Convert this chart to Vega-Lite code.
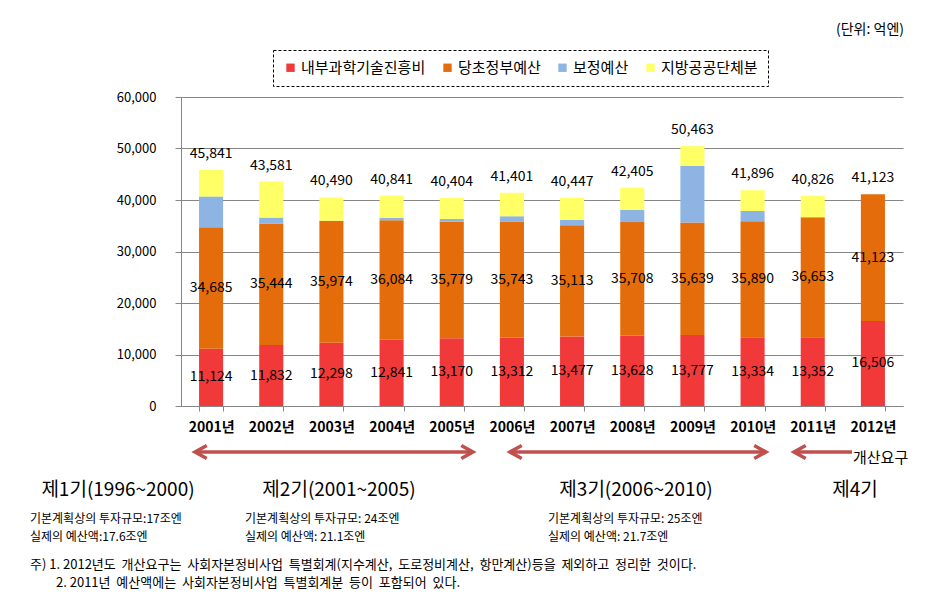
{
  "$schema": "https://vega.github.io/schema/vega-lite/v6.json",
  "width": 722,
  "height": 309,
  "autosize": {"type": "none"},
  "padding": {"left": 181, "top": 97, "right": 29, "bottom": 208},
  "background": "white",
  "config": {"font": "Noto Sans CJK KR", "view": {"stroke": null}},
  "datasets": {
    "bars": [
      {"year": "2001년", "series": "내부과학기술진흥비", "value": 11124, "label": 11124},
      {"year": "2001년", "series": "당초정부예산", "value": 23561, "label": 34685},
      {"year": "2001년", "series": "보정예산", "value": 6000, "label": null},
      {"year": "2001년", "series": "지방공공단체분", "value": 5156, "label": null},
      {"year": "2002년", "series": "내부과학기술진흥비", "value": 11832, "label": 11832},
      {"year": "2002년", "series": "당초정부예산", "value": 23612, "label": 35444},
      {"year": "2002년", "series": "보정예산", "value": 1150, "label": null},
      {"year": "2002년", "series": "지방공공단체분", "value": 6987, "label": null},
      {"year": "2003년", "series": "내부과학기술진흥비", "value": 12298, "label": 12298},
      {"year": "2003년", "series": "당초정부예산", "value": 23676, "label": 35974},
      {"year": "2003년", "series": "지방공공단체분", "value": 4516, "label": null},
      {"year": "2004년", "series": "내부과학기술진흥비", "value": 12841, "label": 12841},
      {"year": "2004년", "series": "당초정부예산", "value": 23243, "label": 36084},
      {"year": "2004년", "series": "보정예산", "value": 420, "label": null},
      {"year": "2004년", "series": "지방공공단체분", "value": 4337, "label": null},
      {"year": "2005년", "series": "내부과학기술진흥비", "value": 13170, "label": 13170},
      {"year": "2005년", "series": "당초정부예산", "value": 22609, "label": 35779},
      {"year": "2005년", "series": "보정예산", "value": 550, "label": null},
      {"year": "2005년", "series": "지방공공단체분", "value": 4075, "label": null},
      {"year": "2006년", "series": "내부과학기술진흥비", "value": 13312, "label": 13312},
      {"year": "2006년", "series": "당초정부예산", "value": 22431, "label": 35743},
      {"year": "2006년", "series": "보정예산", "value": 1100, "label": null},
      {"year": "2006년", "series": "지방공공단체분", "value": 4558, "label": null},
      {"year": "2007년", "series": "내부과학기술진흥비", "value": 13477, "label": 13477},
      {"year": "2007년", "series": "당초정부예산", "value": 21636, "label": 35113},
      {"year": "2007년", "series": "보정예산", "value": 1000, "label": null},
      {"year": "2007년", "series": "지방공공단체분", "value": 4334, "label": null},
      {"year": "2008년", "series": "내부과학기술진흥비", "value": 13628, "label": 13628},
      {"year": "2008년", "series": "당초정부예산", "value": 22080, "label": 35708},
      {"year": "2008년", "series": "보정예산", "value": 2350, "label": null},
      {"year": "2008년", "series": "지방공공단체분", "value": 4347, "label": null},
      {"year": "2009년", "series": "내부과학기술진흥비", "value": 13777, "label": 13777},
      {"year": "2009년", "series": "당초정부예산", "value": 21862, "label": 35639},
      {"year": "2009년", "series": "보정예산", "value": 10960, "label": null},
      {"year": "2009년", "series": "지방공공단체분", "value": 3864, "label": null},
      {"year": "2010년", "series": "내부과학기술진흥비", "value": 13334, "label": 13334},
      {"year": "2010년", "series": "당초정부예산", "value": 22556, "label": 35890},
      {"year": "2010년", "series": "보정예산", "value": 1970, "label": null},
      {"year": "2010년", "series": "지방공공단체분", "value": 4036, "label": null},
      {"year": "2011년", "series": "내부과학기술진흥비", "value": 13352, "label": 13352},
      {"year": "2011년", "series": "당초정부예산", "value": 23301, "label": 36653},
      {"year": "2011년", "series": "지방공공단체분", "value": 4173, "label": null},
      {"year": "2012년", "series": "내부과학기술진흥비", "value": 16506, "label": 16506},
      {"year": "2012년", "series": "당초정부예산", "value": 24617, "label": 41123}
    ],
    "totals": [
      {"year": "2001년", "total": 45841},
      {"year": "2002년", "total": 43581},
      {"year": "2003년", "total": 40490},
      {"year": "2004년", "total": 40841},
      {"year": "2005년", "total": 40404},
      {"year": "2006년", "total": 41401},
      {"year": "2007년", "total": 40447},
      {"year": "2008년", "total": 42405},
      {"year": "2009년", "total": 50463},
      {"year": "2010년", "total": 41896},
      {"year": "2011년", "total": 40826},
      {"year": "2012년", "total": 41123}
    ],
    "unit": [{"pos": 12.017, "val": 73010, "text": "(단위: 억엔)"}],
    "periods": [
      {"pos": -1.047, "val": -16311, "text": "제1기(1996~2000)"},
      {"pos": 2.626, "val": -16311, "text": "제2기(2001~2005)"},
      {"pos": 7.562, "val": -16311, "text": "제3기(2006~2010)"},
      {"pos": 11.202, "val": -16311, "text": "제4기"}
    ],
    "details": [
      {"pos": -2.51, "val": -22000, "text": "기본계획상의 투자규모:17조엔"},
      {"pos": -2.51, "val": -25400, "text": "실제의 예산액:17.6조엔"},
      {"pos": 1.064, "val": -22000, "text": "기본계획상의 투자규모: 24조엔"},
      {"pos": 1.064, "val": -25400, "text": "실제의 예산액: 21.1조엔"},
      {"pos": 6.1, "val": -22000, "text": "기본계획상의 투자규모: 25조엔"},
      {"pos": 6.1, "val": -25400, "text": "실제의 예산액: 21.7조엔"}
    ],
    "footnotes": [
      {"pos": -2.51, "val": -30874, "text": "주) 1. 2012년도\u00a0 개산요구는\u00a0 사회자본정비사업\u00a0 특별회계(지수계산,\u00a0 도로정비계산,\u00a0 항만계산)등을\u00a0 제외하고\u00a0 정리한\u00a0 것이다."},
      {"pos": -2.078, "val": -34369, "text": "2. 2011년\u00a0 예산액에는\u00a0 사회자본정비사업\u00a0 특별회계분\u00a0 등이\u00a0 포함되어\u00a0 있다."}
    ],
    "request": [{"pos": 11.169, "val": -10097, "text": "개산요구"}],
    "arrows": [
      {"start": 0.233, "end": 4.853, "val": -8930},
      {"start": 5.468, "end": 9.722, "val": -8930},
      {"start": 10.188, "end": 11.152, "val": -8930}
    ],
    "heads": [
      {"pos": 0.233, "val": -8930, "dir": "left"},
      {"pos": 4.853, "val": -8930, "dir": "right"},
      {"pos": 5.468, "val": -8930, "dir": "left"},
      {"pos": 9.722, "val": -8930, "dir": "right"},
      {"pos": 10.188, "val": -8930, "dir": "left"}
    ]
  },
  "layer": [
    {
      "layer": [
        {
          "data": {"name": "bars"},
          "mark": {"type": "bar"},
          "encoding": {
            "x": {
              "field": "year", "type": "nominal", "sort": null,
              "scale": {"paddingInner": 0.6, "paddingOuter": 0.3},
              "axis": {
                "title": null, "labelAngle": 0, "labelFontSize": 14, "labelFontWeight": "bold",
                "labelColor": "#000", "labelPadding": 9, "tickBand": "extent", "tickSize": 5,
                "tickColor": "#868686", "domainColor": "#868686", "labelFont": "Noto Sans CJK KR"
              }
            },
            "y": {
              "field": "value", "type": "quantitative", "stack": "zero",
              "scale": {"domain": [0, 60000], "nice": false},
              "axis": {
                "title": null, "values": [0, 10000, 20000, 30000, 40000, 50000, 60000],
                "labelExpr": "format(datum.value, ',')", "labelFontSize": 13, "labelColor": "#000", "labelPadding": 19,
                "tickSize": 6, "tickColor": "#868686", "domainColor": "#868686",
                "grid": true, "gridColor": "#868686", "labelFont": "Noto Sans CJK KR"
              }
            },
            "color": {
              "field": "series", "type": "nominal",
              "scale": {
                "domain": ["내부과학기술진흥비", "당초정부예산", "보정예산", "지방공공단체분"],
                "range": ["#F2393A", "#E46C0A", "#8DB4E2", "#FFFF66"]
              },
              "legend": {
                "orient": "none", "legendX": 92, "legendY": -47, "direction": "horizontal",
                "title": null, "symbolType": "square", "symbolSize": 70, "symbolStrokeWidth": 0,
                "labelFontSize": 15, "labelFont": "Noto Sans CJK KR", "labelColor": "#000",
                "strokeColor": "#000", "padding": 10,
                "columnPadding": 14, "labelOffset": 3,
                "encode": {"legend": {"update": {"strokeDash": {"value": [3, 2]}}}}
              }
            },
            "order": {"field": "series", "type": "nominal", "sort": "ascending"}
          }
        },
        {
          "data": {"name": "bars"},
          "transform": [{"filter": "datum.label != null"}],
          "mark": {"type": "text", "fontSize": 14, "color": "#000", "baseline": "middle", "font": "Noto Sans CJK KR"},
          "encoding": {
            "x": {"field": "year", "type": "nominal", "sort": null},
            "y": {"field": "value", "type": "quantitative", "stack": "zero", "bandPosition": 0.5},
            "detail": {"field": "series", "type": "nominal"},
            "order": {"field": "series", "type": "nominal", "sort": "ascending"},
            "text": {"field": "label", "type": "quantitative", "format": ","}
          }
        },
        {
          "data": {"name": "totals"},
          "mark": {"type": "text", "fontSize": 14, "color": "#000", "baseline": "middle", "dy": -16, "font": "Noto Sans CJK KR"},
          "encoding": {
            "x": {"field": "year", "type": "nominal", "sort": null},
            "y": {"field": "total", "type": "quantitative"},
            "text": {"field": "total", "type": "quantitative", "format": ","}
          }
        }
      ]
    },
    {
      "layer": [
        {
          "data": {"name": "arrows"},
          "mark": {"type": "rule", "color": "#C0504D", "strokeWidth": 3.5},
          "encoding": {
            "x": {"field": "start", "type": "quantitative", "scale": {"domain": [0, 12], "nice": false, "zero": false}, "axis": null},
            "x2": {"field": "end"},
            "y": {"field": "val", "type": "quantitative", "scale": {"domain": [0, 60000], "nice": false, "zero": false}, "axis": null}
          }
        },
        {
          "data": {"name": "heads"},
          "mark": {"type": "point", "filled": false, "strokeWidth": 3.5, "color": "#C0504D", "size": 550, "opacity": 1},
          "encoding": {
            "x": {"field": "pos", "type": "quantitative"},
            "y": {"field": "val", "type": "quantitative"},
            "shape": {
              "field": "dir", "type": "nominal",
              "scale": {"domain": ["left", "right"], "range": ["M1,-0.55L0,0L1,0.55", "M-1,-0.55L0,0L-1,0.55"]},
              "legend": null
            }
          }
        },
        {
          "data": {"name": "unit"},
          "mark": {"type": "text", "fontSize": 14, "align": "right", "baseline": "middle", "color": "#000"},
          "encoding": {
            "x": {"field": "pos", "type": "quantitative"},
            "y": {"field": "val", "type": "quantitative"},
            "text": {"field": "text"}
          }
        },
        {
          "data": {"name": "periods"},
          "mark": {"type": "text", "fontSize": 19, "align": "center", "baseline": "middle", "color": "#000"},
          "encoding": {
            "x": {"field": "pos", "type": "quantitative"},
            "y": {"field": "val", "type": "quantitative"},
            "text": {"field": "text"}
          }
        },
        {
          "data": {"name": "details"},
          "mark": {"type": "text", "fontSize": 12, "align": "left", "baseline": "middle", "color": "#000"},
          "encoding": {
            "x": {"field": "pos", "type": "quantitative"},
            "y": {"field": "val", "type": "quantitative"},
            "text": {"field": "text"}
          }
        },
        {
          "data": {"name": "footnotes"},
          "mark": {"type": "text", "fontSize": 13, "align": "left", "baseline": "middle", "color": "#000"},
          "encoding": {
            "x": {"field": "pos", "type": "quantitative"},
            "y": {"field": "val", "type": "quantitative"},
            "text": {"field": "text"}
          }
        },
        {
          "data": {"name": "request"},
          "mark": {"type": "text", "fontSize": 15, "align": "left", "baseline": "middle", "color": "#000"},
          "encoding": {
            "x": {"field": "pos", "type": "quantitative"},
            "y": {"field": "val", "type": "quantitative"},
            "text": {"field": "text"}
          }
        }
      ]
    }
  ],
  "resolve": {"scale": {"x": "independent", "y": "independent"}}
}
